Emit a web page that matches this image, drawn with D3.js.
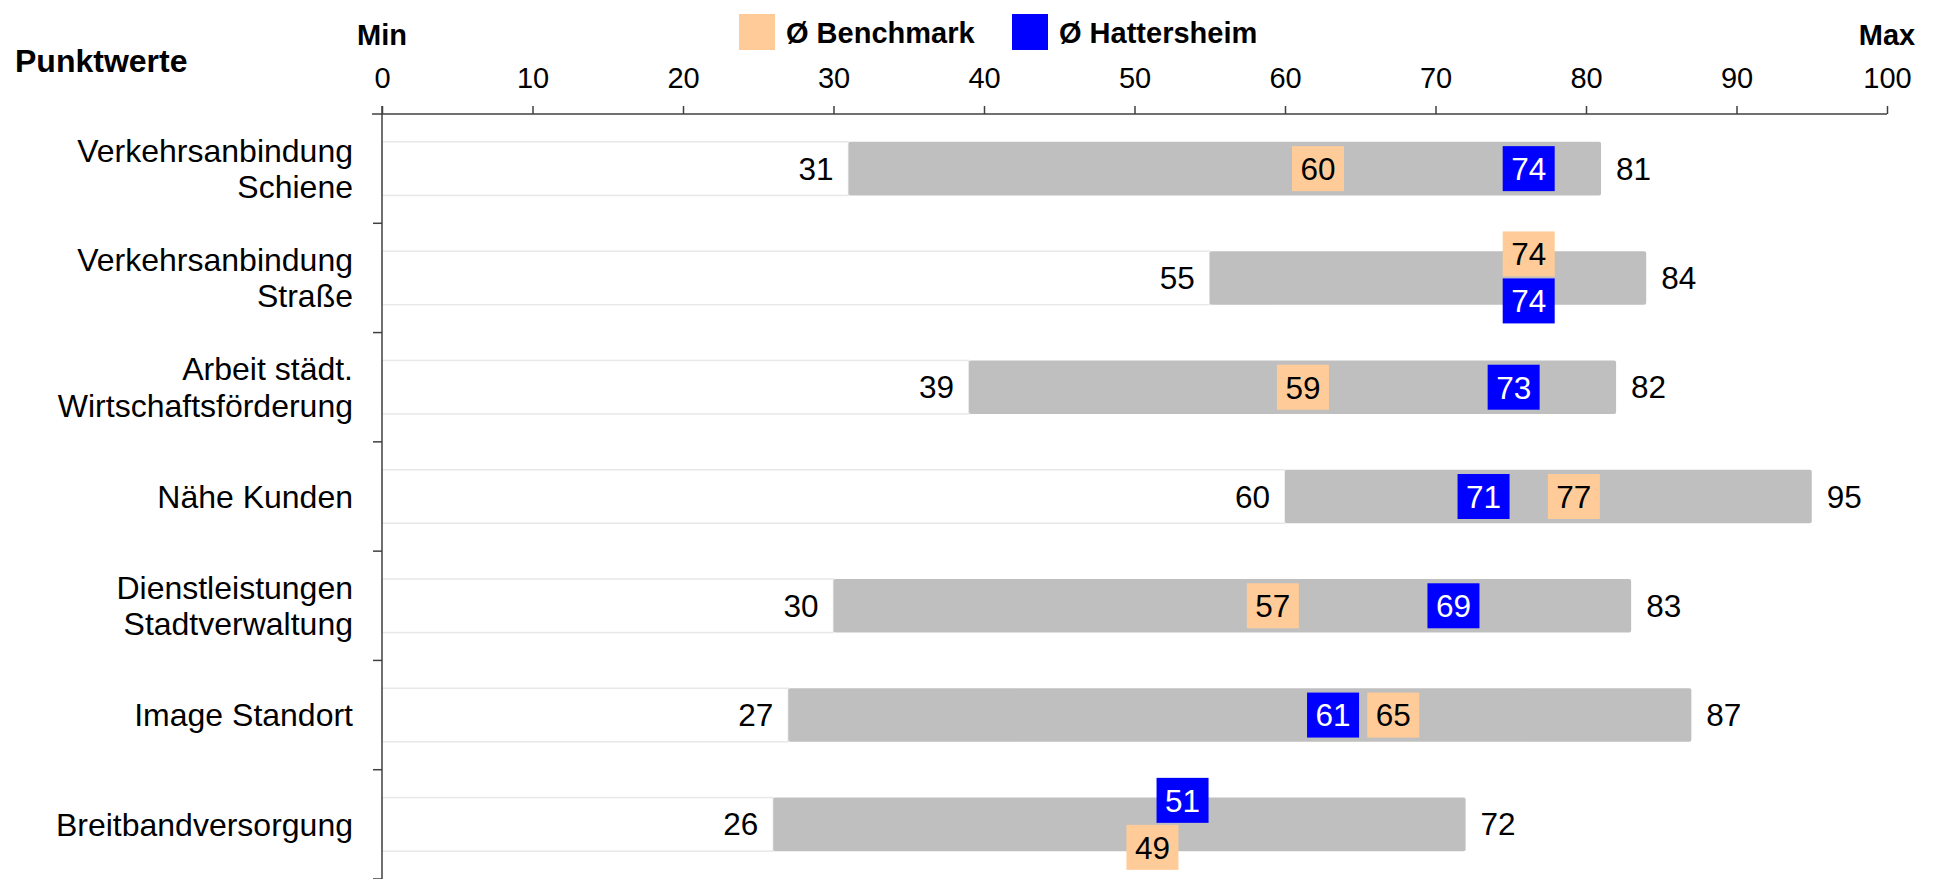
<!DOCTYPE html>
<html>
<head>
<meta charset="utf-8">
<script src="https://cdn.jsdelivr.net/npm/d3@7"></script>
<style>
  body { margin: 0; background: #fff; }
  svg { display: block; font-family: "Liberation Sans", Arial, sans-serif; }
  .tick text { font-size: 29px; fill: #000; }
  .cat { font-size: 32px; fill: #000; }
  .val { font-size: 31.5px; }
  .bold { font-weight: bold; font-size: 29px; }
</style>
</head>
<body>
<div id="chart"></div>
<script>
// data
var categories = ["Verkehrsanbindung|Schiene", "Verkehrsanbindung|Straße", "Arbeit städt.|Wirtschaftsförderung",
    "Nähe Kunden", "Dienstleistungen|Stadtverwaltung", "Image Standort", "Breitbandversorgung"];
var minValues = [31, 55, 39, 60, 30, 27, 26];
var maxValues = [81, 84, 82, 95, 83, 87, 72];
var benchmark = [60, 74, 59, 77, 57, 65, 49];
var hattersheim = [74, 74, 73, 71, 69, 61, 51];
var tickValues = [0, 10, 20, 30, 40, 50, 60, 70, 80, 90, 100];

var W = 1935, H = 879;
var plotLeft = 382, plotRight = 1887, plotTop = 114, plotBottom = 879;
var boxW = 52, boxH = 45;

var svg = d3.select("#chart")
    .append("svg")
    .attr("width", W)
    .attr("height", H);

var x = d3.scaleLinear().domain([0, 100]).range([plotLeft, plotRight]);
var y = d3.scaleBand().domain(d3.range(categories.length)).range([plotTop, plotBottom])
    .paddingInner(0.51).paddingOuter(0.255);

var rows = categories.map(function(c, i) {
    return {i: i, label: c.split("|"), min: minValues[i], max: maxValues[i], bench: benchmark[i], hatt: hattersheim[i]};
});

// white part 0..min
svg.append("g").selectAll("rect")
    .data(rows).enter().append("rect")
    .attr("x", x(0))
    .attr("y", function(d) { return y(d.i); })
    .attr("width", function(d) { return x(d.min) - x(0); })
    .attr("height", y.bandwidth())
    .style("fill", "#fff")
    .style("stroke", "#e8e8e8")
    .style("stroke-width", 1.5);

// grey range min..max
svg.append("g").selectAll("rect")
    .data(rows).enter().append("rect")
    .attr("x", function(d) { return x(d.min); })
    .attr("y", function(d) { return y(d.i); })
    .attr("width", function(d) { return x(d.max) - x(d.min); })
    .attr("height", y.bandwidth())
    .attr("rx", 2)
    .style("fill", "#bfbfbf");

// min / max labels
svg.append("g").selectAll("text")
    .data(rows).enter().append("text")
    .attr("class", "val")
    .attr("x", function(d) { return x(d.min) - 15; })
    .attr("y", function(d) { return y(d.i) + y.bandwidth() / 2; })
    .attr("dy", "0.35em")
    .attr("text-anchor", "end")
    .text(function(d) { return d.min; });

svg.append("g").selectAll("text")
    .data(rows).enter().append("text")
    .attr("class", "val")
    .attr("x", function(d) { return x(d.max) + 15; })
    .attr("y", function(d) { return y(d.i) + y.bandwidth() / 2; })
    .attr("dy", "0.35em")
    .text(function(d) { return d.max; });

// value boxes; move apart vertically when they collide
var marks = [];
rows.forEach(function(d) {
    var dyB = 0, dyH = 0;
    if (Math.abs(d.bench - d.hatt) < 3.5) {
        if (d.hatt > d.bench) { dyH = -24; dyB = 23; }
        else { dyB = -24; dyH = 23; }
    }
    marks.push({i: d.i, v: d.bench, dy: dyB, fill: "#ffcc99", color: "#000"});
    marks.push({i: d.i, v: d.hatt, dy: dyH, fill: "#0000ff", color: "#fff"});
});

var mg = svg.append("g").selectAll("g")
    .data(marks).enter().append("g")
    .attr("transform", function(d) {
        return "translate(" + (x(d.v) + 33) + "," + (y(d.i) + y.bandwidth() / 2 + d.dy) + ")";
    });
mg.append("rect")
    .attr("x", -boxW / 2)
    .attr("y", -boxH / 2)
    .attr("width", boxW)
    .attr("height", boxH)
    .style("fill", function(d) { return d.fill; });
mg.append("text")
    .attr("class", "val")
    .attr("text-anchor", "middle")
    .attr("dy", "0.36em")
    .style("fill", function(d) { return d.color; })
    .text(function(d) { return d.v; });

// x axis on top
var xAxis = svg.append("g")
    .attr("transform", "translate(0," + plotTop + ")")
    .call(d3.axisTop(x).tickValues(tickValues).tickSize(8).tickPadding(18));
xAxis.select(".domain").attr("d", "M" + (plotLeft - 10) + ",0H" + plotRight).style("stroke", "#404040").style("stroke-width", 1.5);
xAxis.selectAll(".tick line").style("stroke", "#404040").style("stroke-width", 1.5);

// y axis with ticks on the category borders
var yAxis = svg.append("g").attr("transform", "translate(" + plotLeft + ",0)");
yAxis.append("line")
    .attr("x1", 0).attr("x2", 0)
    .attr("y1", plotTop - 8).attr("y2", plotBottom)
    .style("stroke", "#404040").style("stroke-width", 1.5);
yAxis.selectAll(".ytick")
    .data(rows).enter().append("line")
    .attr("class", "ytick")
    .attr("x1", -9).attr("x2", 0)
    .attr("y1", function(d) { return y.step() * (d.i + 1) + plotTop; })
    .attr("y2", function(d) { return y.step() * (d.i + 1) + plotTop; })
    .style("stroke", "#404040").style("stroke-width", 1.5);

// category labels
var cat = svg.append("g").selectAll("text")
    .data(rows).enter().append("text")
    .attr("class", "cat")
    .attr("text-anchor", "end")
    .attr("transform", function(d) { return "translate(353," + (y(d.i) + y.bandwidth() / 2) + ")"; });
cat.selectAll("tspan")
    .data(function(d) { return d.label.map(function(t, k) { return {t: t, k: k, n: d.label.length}; }); })
    .enter().append("tspan")
    .attr("x", 0)
    .attr("y", function(d) { return (d.k - (d.n - 1) / 2) * 36.5; })
    .attr("dy", "0.35em")
    .text(function(d) { return d.t; });

// titles
svg.append("text").attr("class", "bold").style("font-size", "32px")
    .attr("x", 15).attr("y", 72).text("Punktwerte");
svg.append("text").attr("class", "bold").attr("text-anchor", "middle")
    .attr("x", x(0)).attr("y", 45).text("Min");
svg.append("text").attr("class", "bold").attr("text-anchor", "middle")
    .attr("x", x(100)).attr("y", 45).text("Max");

// legend
var legend = [{name: "Ø Benchmark", fill: "#ffcc99", x: 739}, {name: "Ø Hattersheim", fill: "#0000ff", x: 1012}];
var lg = svg.append("g").selectAll("g")
    .data(legend).enter().append("g")
    .attr("transform", function(d) { return "translate(" + d.x + ",14)"; });
lg.append("rect").attr("width", 36).attr("height", 36).style("fill", function(d) { return d.fill; });
lg.append("text").attr("class", "bold").attr("x", 47).attr("y", 29).text(function(d) { return d.name; });
</script>
</body>
</html>
